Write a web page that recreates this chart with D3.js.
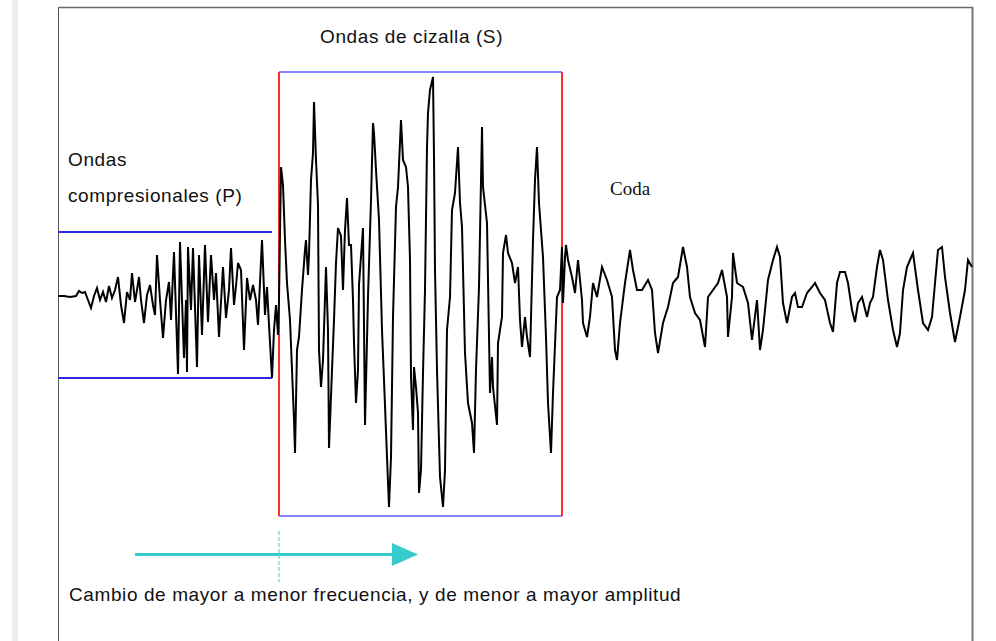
<!DOCTYPE html>
<html>
<head>
<meta charset="utf-8">
<script src="https://cdn.jsdelivr.net/npm/d3@7"></script>
<style>
  body { margin: 0; background: #fff; }
  svg { display: block; }
</style>
</head>
<body>
<svg id="chart" width="996" height="641"></svg>
<script>
// trace: time in samples, amplitude in counts (0 = rest line)
const pTime = [0, 6, 12, 18, 21, 24, 27, 30, 33, 36, 39, 42, 45, 48, 51, 54, 57, 60, 63, 66, 69, 72, 74, 77, 79, 81, 83, 86, 89, 92, 95, 97, 99, 102, 105, 108, 111, 113, 116, 120, 122, 126, 128, 129, 130, 133, 135, 139, 141, 144, 147, 150, 153, 156, 158, 161, 165, 168, 171, 173, 176, 178, 180, 183, 186, 189, 192, 195, 198, 200, 204, 207, 209, 211, 214, 216, 218, 220];
const pAmp = [0, 0, -1, 0, 5, 3, 4, -4, -12, 0, 8, -4, 4, -6, 10, -2, 6, 19, -9, -27, 4, -4, 23, -6, 6, 19, -4, -27, 1, 11, -9, -19, 41, -4, -42, -4, 14, -24, 44, -78, 54, -62, -4, -76, 49, -14, 48, -71, 41, -39, 51, -26, 41, -4, 23, -41, 29, -22, 6, 48, -9, 10, 33, 26, -54, 18, -4, 11, -4, -29, 56, -19, 9, -29, -82, -34, -9, -39];

const sTime = [221, 223, 225, 227, 229, 232, 234, 236, 237, 239, 241, 244, 247, 248, 250, 251, 253, 255, 256, 258, 260, 261, 263, 265, 268, 270, 271, 274, 276, 278, 280, 283, 285, 287, 289, 291, 293, 295, 296, 298, 300, 301, 305, 307, 310, 313, 315, 316, 318, 321, 324, 326, 329, 331, 333, 335, 338, 340, 343, 345, 348, 350, 352, 353, 355, 356, 358, 360, 361, 363, 365, 367, 369, 370, 372, 375, 376, 377, 379, 382, 385, 387, 389, 392, 394, 397, 400, 402, 404, 407, 410, 414, 416, 418, 421, 424, 425, 429, 432, 434, 435, 439, 440, 444, 445, 448, 450, 454, 457, 460, 462, 464, 467, 469, 472, 475, 477, 479, 481, 485, 488, 490, 493, 495, 499, 502, 504, 505, 507];
const sAmp = [-4, 129, 111, 56, 13, -24, -74, -124, -157, -54, -41, 6, 46, 56, 21, 41, 116, 143, 194, 136, 91, -54, -91, -64, 29, -34, -152, -74, -24, 33, 68, 60, 6, 66, 98, 51, 51, -4, -47, -107, -74, 11, 68, -129, -1, 96, 173, 163, 126, 76, -34, -84, -161, -211, -161, -21, 89, 109, 176, 136, 129, 109, 36, -81, -134, -71, -91, -117, -197, -174, -77, 6, 149, 183, 206, 219, 139, 26, -74, -181, -211, -174, -34, -1, 86, 103, 149, 93, 69, -57, -107, -127, -157, -74, 9, 169, 109, 73, -97, -61, -91, -129, -47, -21, 43, 61, 43, 33, 13, 29, -24, -51, -21, -41, -61, 56, 116, 149, 93, 39, -41, -107, -157, -97, -1, 6, 49, -7, 39];

const codaTime = [508, 510, 514, 517, 520, 524, 525, 529, 532, 535, 539, 544, 549, 554, 557, 559, 562, 567, 572, 575, 579, 584, 590, 594, 597, 600, 605, 610, 615, 620, 625, 629, 632, 637, 642, 647, 650, 655, 660, 664, 669, 670, 674, 675, 679, 685, 690, 694, 699, 702, 705, 710, 715, 719, 722, 725, 729, 734, 737, 740, 744, 749, 754, 757, 762, 767, 772, 775, 779, 782, 787, 790, 794, 797, 800, 804, 809, 812, 815, 819, 822, 825, 830, 835, 839, 842, 845, 849, 852, 855, 860, 865, 870, 874, 877, 880, 884, 887, 892, 897, 902, 907, 910, 914];
const codaAmp = [51, 36, 19, 3, 36, -4, -27, -41, -21, 13, -1, 29, 16, -1, -54, -64, -27, 13, 46, 26, 6, 6, 16, 6, -37, -57, -27, -11, 13, 19, 49, 29, -1, -17, -24, -51, -1, 6, 13, 26, -1, -41, -1, 43, 13, 9, -7, -44, -4, -54, -34, 16, 36, 49, 39, -7, -27, -1, 3, -11, -11, 3, 9, 13, 3, -4, -27, -36, 13, 24, 24, 13, -14, -26, -7, -1, -21, -7, -1, 29, 46, 36, -4, -34, -51, -37, 6, 29, 36, 43, 6, -27, -34, -21, 13, 46, 49, 19, -17, -46, -21, 6, 36, 29];

// annotation windows [t0, t1, aLow, aHigh]
const pWindow = [0, 214, -82, 64];
const sWindow = [221, 504, -220, 224];
const arrowSpan = [77, 360];

const labels = {
  s: "Ondas de cizalla (S)",
  p1: "Ondas",
  p2: "compresionales (P)",
  coda: "Coda",
  note: "Cambio de mayor a menor frecuencia, y de menor a mayor amplitud"
};

const svg = d3.select("#chart");
const sans = "'Liberation Sans', Arial, sans-serif";

const x = d3.scaleLinear().domain([0, 914]).range([58, 972]);
const y = d3.scaleLinear().domain([-220, 224]).range([516, 72]);

// page strip + frame
svg.append("rect").attr("x", 12).attr("y", 0).attr("width", 6).attr("height", 641).attr("fill", "#eceeee");
svg.append("line").attr("x1", 58.5).attr("x2", 58.5).attr("y1", 7).attr("y2", 641)
    .attr("stroke", "#555").attr("stroke-width", 1);
svg.append("line").attr("x1", 58).attr("x2", 973).attr("y1", 7.5).attr("y2", 7.5)
    .attr("stroke", "#6a6a6a").attr("stroke-width", 1.5);
svg.append("line").attr("x1", 972.5).attr("x2", 972.5).attr("y1", 7).attr("y2", 641)
    .attr("stroke", "#777").attr("stroke-width", 2);

// P window: two blue lines
[pWindow[2], pWindow[3]].forEach(a => {
  svg.append("line")
      .attr("x1", x(pWindow[0])).attr("x2", x(pWindow[1]))
      .attr("y1", y(a)).attr("y2", y(a))
      .attr("stroke", "#2b2bdc").attr("stroke-width", 2);
});

// S window: blue top/bottom, red sides
[sWindow[2], sWindow[3]].forEach(a => {
  svg.append("line")
      .attr("x1", x(sWindow[0])).attr("x2", x(sWindow[1]))
      .attr("y1", y(a)).attr("y2", y(a))
      .attr("stroke", "#8484ff").attr("stroke-width", 2);
});
[sWindow[0], sWindow[1]].forEach(t => {
  svg.append("line")
      .attr("x1", x(t)).attr("x2", x(t))
      .attr("y1", y(sWindow[3])).attr("y2", y(sWindow[2]))
      .attr("stroke", "#ff2a2a").attr("stroke-width", 2);
});

// trace
const line = d3.line().x(d => x(d[0])).y(d => y(d[1]));
const segs = [[pTime, pAmp], [sTime, sAmp], [codaTime, codaAmp]];
let pts = [];
segs.forEach(s => { s[0].forEach((t, i) => pts.push([t, s[1][i]])); });
svg.append("path")
    .datum(pts)
    .attr("d", line)
    .attr("fill", "none")
    .attr("stroke", "#000")
    .attr("stroke-width", 2)
    .attr("stroke-linejoin", "miter");

// arrow + dashed marker
const ay = 554.5;
svg.append("line")
    .attr("x1", x(arrowSpan[0])).attr("x2", x(arrowSpan[1]) - 20)
    .attr("y1", ay).attr("y2", ay)
    .attr("stroke", "#37cccc").attr("stroke-width", 3.2);
svg.append("path")
    .attr("d", `M${x(arrowSpan[1]) - 26},${ay - 11.5} L${x(arrowSpan[1])},${ay} L${x(arrowSpan[1]) - 26},${ay + 11.5} Z`)
    .attr("fill", "#37cccc");
svg.append("line")
    .attr("x1", x(sWindow[0])).attr("x2", x(sWindow[0]))
    .attr("y1", 531).attr("y2", 582)
    .attr("stroke", "#4cc9c9").attr("stroke-width", 1)
    .attr("stroke-dasharray", "4,2");

// labels
const txt = (s, tx, ty, fam, size, ls) => svg.append("text")
    .attr("x", tx).attr("y", ty)
    .attr("font-family", fam).attr("font-size", size)
    .attr("letter-spacing", ls)
    .attr("fill", "#111")
    .text(s);

txt(labels.s, 320, 43, sans, 19, 0.6);
txt(labels.p1, 68, 166, sans, 19, 0.6);
txt(labels.p2, 68, 202, sans, 19, 0.6);
txt(labels.coda, 610, 195, "'Liberation Serif', 'Times New Roman', serif", 19, 0);
txt(labels.note, 69, 601, sans, 19, 0.6);
</script>
</body>
</html>
